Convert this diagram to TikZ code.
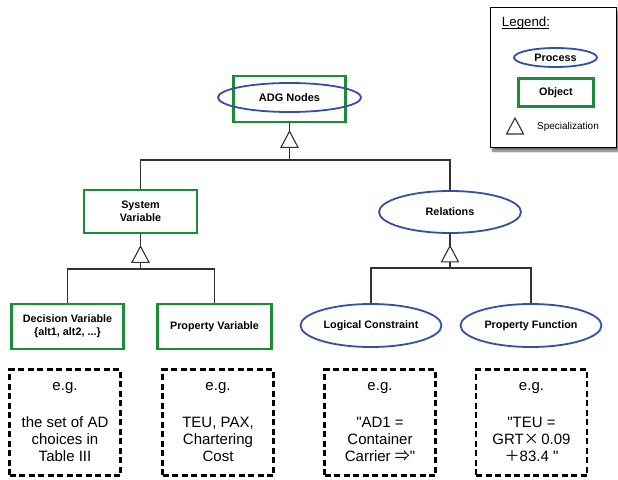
\documentclass[tikz,border=0pt]{standalone}
\usepackage{fontspec}
\setmainfont{Liberation Sans}[Ligatures=TeXOff]
\newfontfamily\cjk{Noto Sans CJK SC}
\usetikzlibrary{shapes.geometric,shadows.blur,calc}

\definecolor{objgreen}{RGB}{28,140,58}
\definecolor{procblue}{RGB}{55,78,168}
\definecolor{linkgray}{RGB}{50,50,50}

\tikzset{
  labelfont/.style={font=\fontsize{10.8}{13}\selectfont\bfseries},
  objbox/.style={draw=objgreen, line width=2.6pt, rectangle, inner sep=0pt,
    align=center, labelfont},
  procell/.style={draw=procblue, line width=1.8pt, ellipse, inner sep=0pt,
    align=center, labelfont},
  example/.style={draw=black, line width=2.6pt, dash pattern=on 6pt off 3.5pt,
    minimum width=111pt, minimum height=106pt, inner sep=0pt, align=center,
    font=\fontsize{15}{17}\selectfont},
  link/.style={draw=linkgray, line width=1.1pt},
  spec/.style={draw=linkgray, line width=1.1pt, fill=white, line join=miter},
  legendbox/.style={draw=black, line width=0.8pt, fill=white,
    minimum width=126pt, minimum height=140pt,
    blur shadow={shadow xshift=2.5pt, shadow yshift=-4pt, shadow blur steps=8,
      shadow opacity=60}},
}

% open specialization triangle, tip at the given point
\newcommand\spectri[1]{\draw[spec] (#1) -- ++(-8.5,16) -- ++(17,0) -- cycle;}

\begin{document}
\begin{tikzpicture}[x=1pt, y=-1pt]
\useasboundingbox (0,0) rectangle (618,479);

% ---- legend ----
\node[legendbox] (legend) at (553,77) {};
\node[font=\fontsize{13.3}{15}\selectfont, inner sep=1pt] (legtitle) at (526,23) {Legend:};
% underline of the legend title (explicit pt offsets are canvas units: negative is down)
\draw[line width=0.9pt, black] (legtitle.base west) ++(1pt,-2.5pt) -- ++(47pt,0pt);
\node[procell, minimum width=83pt, minimum height=19pt] (legproc) at (555.5,57.5) {Process};
\node[objbox, minimum width=75pt, minimum height=28pt] (legobj) at (556,92.5) {Object};
\coordinate (legtip) at (515,118);
\spectri{legtip}
\node[font=\fontsize{10}{12}\selectfont] (legspec) at (568,127) {Specialization};

% ---- hierarchy ----
\node[objbox, minimum width=112pt, minimum height=46pt] (adgbox) at (289.5,99) {};
\node[procell, minimum width=143pt, minimum height=29pt, font=\fontsize{11}{13}\selectfont\bfseries] (adg) at (289.5,97.5) {ADG Nodes};

\node[objbox, minimum width=113pt, minimum height=43pt] (sysvar) at (140.5,211.5) {System\\Variable};
\node[procell, minimum width=142pt, minimum height=42pt] (rel) at (450,212) {Relations};

\node[objbox, minimum width=112pt, minimum height=45pt] (decvar) at (67.5,326.5) {Decision Variable\\\{alt1, alt2, ...\}};
\node[objbox, minimum width=114pt, minimum height=45pt] (propvar) at (214.5,326.5) {Property Variable};
\node[procell, minimum width=141pt, minimum height=43pt] (logc) at (371,325.5) {Logical Constraint};
\node[procell, minimum width=141pt, minimum height=43pt] (propf) at (531,325.5) {Property Function};

% ---- examples ----
\node[example] (ex1) at (65,422.5) {e.g.\\[20pt]the set of AD\\choices in\\Table III};
\node[example] (ex2) at (218,422.5) {e.g.\\[20pt]TEU, PAX,\\Chartering\\Cost};
\node[example] (ex3) at (380,422.5) {e.g.\\[20pt]"AD1 =\\Container\\Carrier {\cjk ⇒}"};
\node[example] (ex4) at (531.5,422.5) {e.g.\\[20pt]"TEU =\\GRT{\cjk ×}\,0.09\\{\cjk ＋}83.4 "};

% ---- specialization links ----
\coordinate (bar1) at (289.5,160);
\coordinate (bar2) at (140.5,269);
\coordinate (bar3) at (450,268);

\draw[link] (adgbox.south) -- (bar1);
\draw[link] (sysvar.north) -- (sysvar.north |- bar1) -- (rel.north |- bar1) -- (rel.north);
\coordinate (tip1) at ($(adgbox.south)+(0,8)$);
\spectri{tip1}

\draw[link] (sysvar.south) -- (bar2);
\draw[link] (decvar.north) -- (decvar.north |- bar2) -- (propvar.north |- bar2) -- (propvar.north);
\coordinate (tip2) at ($(sysvar.south)+(0,12)$);
\spectri{tip2}

\draw[link] (rel.south) -- (bar3);
\draw[link] (logc.north) -- (logc.north |- bar3) -- (propf.north |- bar3) -- (propf.north);
\coordinate (tip3) at ($(rel.south)+(0,12)$);
\spectri{tip3}
\end{tikzpicture}
\end{document}
